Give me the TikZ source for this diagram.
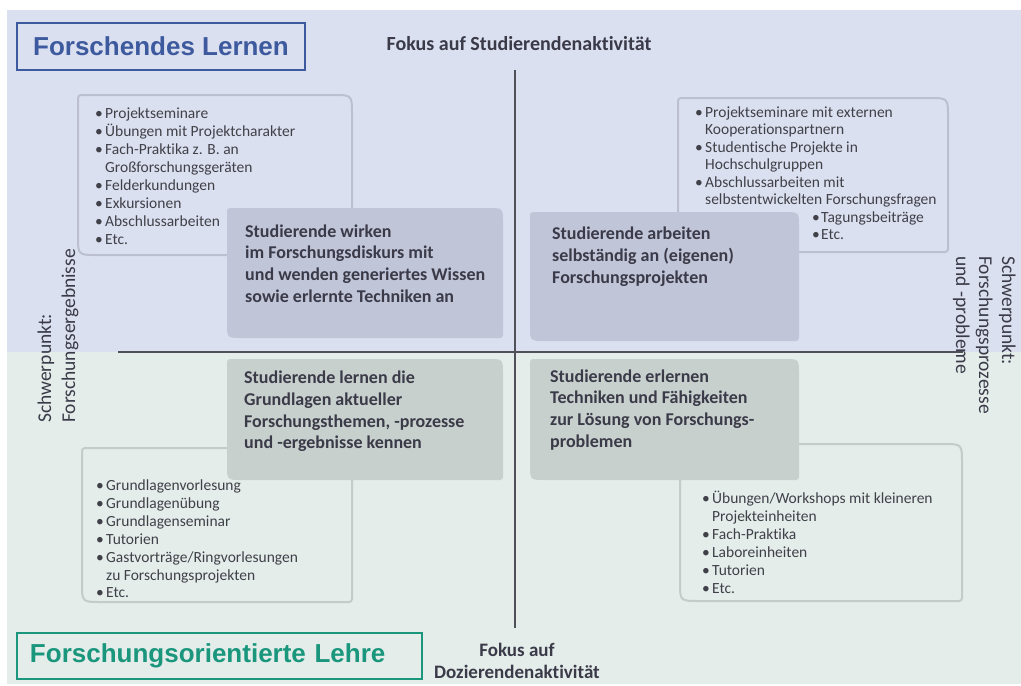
\documentclass[tikz,border=0pt]{standalone}
\usepackage{fontspec}
\setmainfont{Carlito}[Ligatures=NoCommon]
\newfontfamily\titlefont{Liberation Sans}
\definecolor{bgtop}{HTML}{DBE0F0}
\definecolor{bgbot}{HTML}{E4EDEA}
\definecolor{boxtop}{HTML}{C1C5D8}
\definecolor{boxbot}{HTML}{C8D0CD}
\definecolor{lintop}{HTML}{BCC0CE}
\definecolor{linbot}{HTML}{C4CBC8}
\definecolor{tblue}{HTML}{3D5A9E}
\definecolor{tgreen}{HTML}{1A967D}
\definecolor{txtb}{HTML}{3A3A48}
\definecolor{txt}{HTML}{404048}
\definecolor{axis}{HTML}{505058}
\newcommand\bu{\makebox[10pt][l]{\textbullet}}
% shape with rounded top-right and bottom-left corners
\newcommand\diagshape[3]{%
  \path[#2,rounded corners=3pt] (#1.north west) -- ([xshift=-#3]#1.north east)
    .. controls (#1.north east) .. ([yshift=-#3]#1.north east)
    -- (#1.south east) -- ([xshift=#3]#1.south west)
    .. controls (#1.south west) .. ([yshift=#3]#1.south west) -- cycle;}
\begin{document}
\begin{tikzpicture}[x=1pt,y=-1pt,
  area/.style={inner sep=0pt, outer sep=0pt, draw=none, anchor=north west},
  lst/.style={font=\fontsize{15.5}{18}\selectfont, text=txt, inner sep=0pt, anchor=base west},
  bld/.style={font=\bfseries\fontsize{18}{22}\selectfont, text=txtb, inner sep=0pt, anchor=base west},
  axl/.style={font=\bfseries\fontsize{19}{22}\selectfont, text=txtb, inner sep=0pt, anchor=base},
  side/.style={font=\fontsize{19.5}{23}\selectfont, text=txtb, inner sep=0pt, anchor=base west},
  axisline/.style={draw=axis, line width=1.3pt}]
\useasboundingbox (0,0) rectangle (1021,686);
% backgrounds
\fill[bgtop] (7,10) rectangle (1021,352);
\fill[bgbot] (7,352) rectangle (1021,684);
% axes
\coordinate (vt) at (515,70);
\coordinate (vb) at (515,628);
\coordinate (hl) at (118,352);
\coordinate (hr) at (963,352);
\draw[axisline] (vt) -- (vb);
\draw[axisline] (hl) -- (hr);
% list boxes
\node[area, minimum width=274pt, minimum height=160pt] (ltl) at (78,95) {};
\node[area, minimum width=270pt, minimum height=154pt] (ltr) at (678,98) {};
\node[area, minimum width=270pt, minimum height=154pt] (lbl) at (82,448) {};
\node[area, minimum width=282pt, minimum height=157pt] (lbr) at (680,444) {};
\diagshape{ltl}{draw=lintop, line width=2pt}{22pt}
\diagshape{ltr}{draw=lintop, line width=2pt}{22pt}
\diagshape{lbl}{draw=linbot, line width=2pt}{22pt}
\diagshape{lbr}{draw=linbot, line width=2pt}{22pt}
% central boxes
\node[area, minimum width=276pt, minimum height=130pt] (ctl) at (227,208) {};
\node[area, minimum width=269pt, minimum height=129pt] (ctr) at (530,212) {};
\node[area, minimum width=276pt, minimum height=121pt] (cbl) at (227,359) {};
\node[area, minimum width=269pt, minimum height=121pt] (cbr) at (530,359) {};
\diagshape{ctl}{fill=boxtop}{18pt}
\diagshape{ctr}{fill=boxtop}{18pt}
\diagshape{cbl}{fill=boxbot}{18pt}
\diagshape{cbr}{fill=boxbot}{18pt}
% title boxes
\node[draw=tblue, line width=1.5pt, minimum width=288pt, minimum height=47pt, inner sep=0pt,
  font=\titlefont\bfseries\fontsize{26}{30}\selectfont, text=tblue] (fl) at (161,46.5) {Forschendes Lernen};
\node[draw=tgreen, line width=1.5pt, minimum height=46pt, inner xsep=13pt, inner ysep=0pt,
  text width=379pt, align=left, font=\titlefont\bfseries\fontsize{26}{30}\selectfont, text=tgreen] (fol) at (219.5,656) {Forschungsorientierte Lehre};
% axis labels
\node[axl, font=\bfseries\fontsize{20}{22}\selectfont] (ftop) at (519,50) {Fokus auf Studierendenaktivität};
\node[axl] (fbot1) at (517,656) {Fokus auf};
\node[axl] (fbot2) at (517,678) {Dozierendenaktivität};
\node[side, rotate=90] (sl1) at (51,423) {Schwerpunkt:};
\node[side, rotate=90] (sl2) at (75,423) {Forschungsergebnisse};
\node[side, rotate=-90] (sr1) at (1002,256) {Schwerpunkt:};
\node[side, rotate=-90] (sr2) at (979,256) {Forschungsprozesse};
\node[side, rotate=-90] (sr3) at (956,256) {und -probleme};
% top-left list
\node[lst] (tl1) at (95,118) {\bu Projektseminare};
\node[lst] (tl2) at (95,136) {\bu Übungen mit Projektcharakter};
\node[lst] (tl3) at (95,154) {\bu Fach-Praktika z. B. an};
\node[lst] (tl4) at (105,172) {Großforschungsgeräten};
\node[lst] (tl5) at (95,190) {\bu Felderkundungen};
\node[lst] (tl6) at (95,208) {\bu Exkursionen};
\node[lst] (tl7) at (95,226) {\bu Abschlussarbeiten};
\node[lst] (tl8) at (95,244) {\bu Etc.};
% top-right list
\node[lst] (tr1) at (695,117) {\bu Projektseminare mit externen};
\node[lst] (tr2) at (705,134.5) {Kooperationspartnern};
\node[lst] (tr3) at (695,152) {\bu Studentische Projekte in};
\node[lst] (tr4) at (705,169.5) {Hochschulgruppen};
\node[lst] (tr5) at (695,187) {\bu Abschlussarbeiten mit};
\node[lst] (tr6) at (705,204.5) {selbstentwickelten Forschungsfragen};
\node[lst] (tr7) at (812,222) {\makebox[9pt][l]{\textbullet}Tagungsbeiträge};
\node[lst] (tr8) at (812,239.5) {\makebox[9pt][l]{\textbullet}Etc.};
% bottom-left list
\node[lst] (bl1) at (96,490) {\bu Grundlagenvorlesung};
\node[lst] (bl2) at (96,508) {\bu Grundlagenübung};
\node[lst] (bl3) at (96,526) {\bu Grundlagenseminar};
\node[lst] (bl4) at (96,544) {\bu Tutorien};
\node[lst] (bl5) at (96,562) {\bu Gastvorträge/Ringvorlesungen};
\node[lst] (bl6) at (106,580) {zu Forschungsprojekten};
\node[lst] (bl7) at (96,597) {\bu Etc.};
% bottom-right list
\node[lst] (br1) at (702,503) {\bu Übungen/Workshops mit kleineren};
\node[lst] (br2) at (712,521) {Projekteinheiten};
\node[lst] (br3) at (702,539) {\bu Fach-Praktika};
\node[lst] (br4) at (702,557) {\bu Laboreinheiten};
\node[lst] (br5) at (702,575) {\bu Tutorien};
\node[lst] (br6) at (702,593) {\bu Etc.};
% central texts
\node[bld] (a1) at (245,237) {Studierende wirken};
\node[bld] (a2) at (245,258.5) {im Forschungsdiskurs mit};
\node[bld] (a3) at (245,280) {und wenden generiertes Wissen};
\node[bld] (a4) at (245,302) {sowie erlernte Techniken an};
\node[bld] (b1) at (552,239) {Studierende arbeiten};
\node[bld] (b2) at (552,261) {selbständig an (eigenen)};
\node[bld] (b3) at (552,283) {Forschungsprojekten};
\node[bld] (c1) at (244,383) {Studierende lernen die};
\node[bld] (c2) at (244,405) {Grundlagen aktueller};
\node[bld] (c3) at (244,427) {Forschungsthemen, -prozesse};
\node[bld] (c4) at (244,448) {und -ergebnisse kennen};
\node[bld] (d1) at (550,382) {Studierende erlernen};
\node[bld] (d2) at (550,403.5) {Techniken und Fähigkeiten};
\node[bld] (d3) at (550,425) {zur Lösung von Forschungs-};
\node[bld] (d4) at (550,447) {problemen};
\end{tikzpicture}
\end{document}
